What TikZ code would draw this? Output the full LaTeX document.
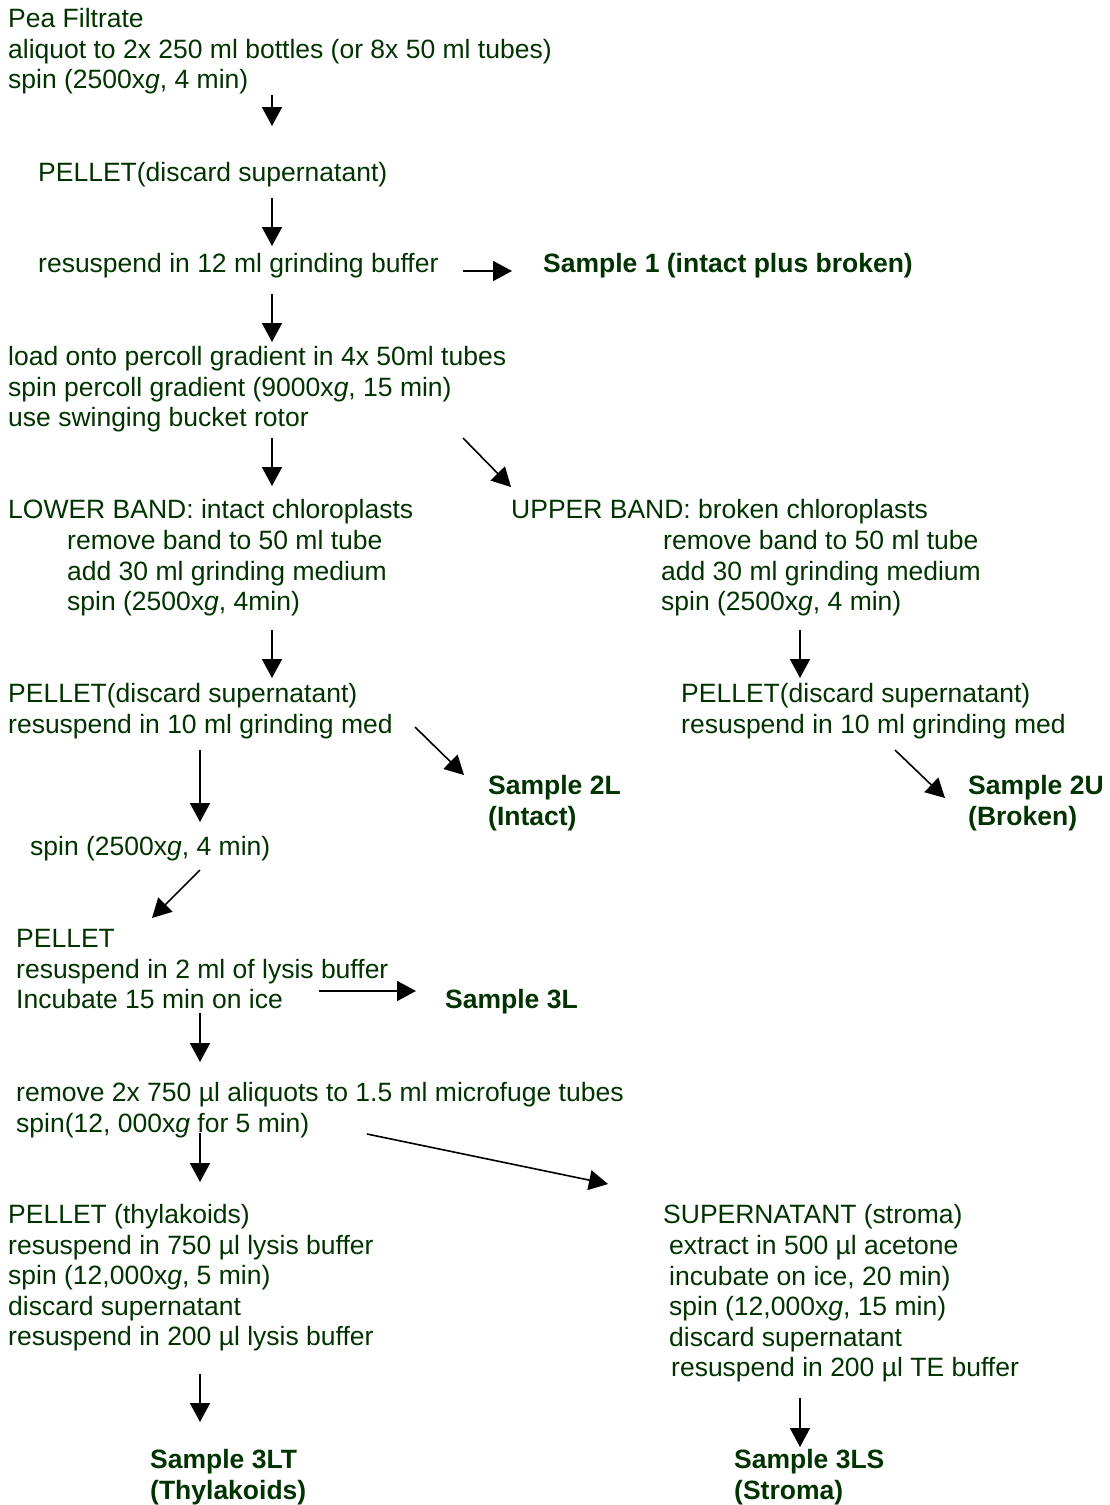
\documentclass[tikz,border=0pt]{standalone}
\usepackage{fontspec}
\setmainfont{Liberation Sans}
\usepackage{tikz}
\usetikzlibrary{arrows.meta}
\definecolor{dkgreen}{RGB}{0,51,0}
\def\xg{x\textit{g}}

\begin{document}
\begin{tikzpicture}[x=1pt,y=-1pt,
  txt/.style={anchor=base west,inner sep=0pt,align=left,text=dkgreen,
    font=\fontsize{26.5}{30.6}\selectfont},
  smp/.style={txt,font=\fontsize{26.5}{30.6}\selectfont\bfseries},
  arr/.style={-{Triangle[length=19pt,width=20pt]},line width=1.6pt}]
\useasboundingbox (0,0) rectangle (1110,1505);
%put nodes (placed at the baseline of their last line)
%top
\node[txt] (filtrate) at (8,88.7) {Pea Filtrate\\aliquot to 2x 250 ml bottles (or 8x 50 ml tubes)\\spin (2500\xg, 4 min)};
\node[txt] (pellet1) at (38,181.5) {PELLET(discard supernatant)};
\node[txt] (resusp1) at (38,272.5) {resuspend in 12 ml grinding buffer};
\node[smp] (sample1) at (543,272.5) {Sample 1 (intact plus broken)};
\node[txt] (percoll) at (8,426.7) {load onto percoll gradient in 4x 50ml tubes\\spin percoll gradient (9000\xg, 15 min)\\use swinging bucket rotor};
%lower band
\node[txt] (lower) at (8,518.5) {LOWER BAND: intact chloroplasts};
\node[txt] (lowerbody) at (67,610.7) {remove band to 50 ml tube\\add 30 ml grinding medium\\spin (2500\xg, 4min)};
\node[txt] (pelletL) at (8,733.1) {PELLET(discard supernatant)\\resuspend in 10 ml grinding med};
\node[smp] (sample2L) at (488,825.1) {Sample 2L\\(Intact)};
\node[txt] (spinL) at (30,855.5) {spin (2500\xg, 4 min)};
\node[txt] (pellet3) at (16,1008.7) {PELLET\\resuspend in 2 ml of lysis buffer\\Incubate 15 min on ice};
\node[smp] (sample3L) at (445,1008.5) {Sample 3L};
\node[txt] (aliquots) at (16,1132.1) {remove 2x 750 µl aliquots to 1.5 ml microfuge tubes\\spin(12, 000\xg{} for 5 min)};
\node[txt] (thyl) at (8,1345.9) {PELLET (thylakoids)\\resuspend in 750 µl lysis buffer\\spin (12,000\xg, 5 min)\\discard supernatant\\resuspend in 200 µl lysis buffer};
\node[smp] (sample3LT) at (150,1499.1) {Sample 3LT\\(Thylakoids)};
%upper band
\node[txt] (upper) at (511,518.5) {UPPER BAND: broken chloroplasts};
\node[txt] (upperbody) at (661,610.7) {\hspace{2pt}remove band to 50 ml tube\\add 30 ml grinding medium\\spin (2500\xg, 4 min)};
\node[txt] (pelletU) at (681,733.1) {PELLET(discard supernatant)\\resuspend in 10 ml grinding med};
\node[smp] (sample2U) at (968,825.1) {Sample 2U\\(Broken)};
%stroma
\node[txt] (strom) at (663,1223.5) {SUPERNATANT (stroma)};
\node[txt] (strombody) at (669,1376.9) {extract in 500 µl acetone\\incubate on ice, 20 min)\\spin (12,000\xg, 15 min)\\discard supernatant\\\hspace{2pt}resuspend in 200 µl TE buffer};
\node[smp] (sample3LS) at (734,1499.1) {Sample 3LS\\(Stroma)};

%arrow ends
\coordinate (a1) at (272,95);    \coordinate (a1e) at (272,126);
\coordinate (a2) at (272,198);   \coordinate (a2e) at (272,246);
\coordinate (a3) at (463,271);   \coordinate (a3e) at (512,271);
\coordinate (a4) at (272,294);   \coordinate (a4e) at (272,342);
\coordinate (a5) at (272,438);   \coordinate (a5e) at (272,486);
\coordinate (a6) at (463,438);   \coordinate (a6e) at (511,487);
\coordinate (a7) at (272,630);   \coordinate (a7e) at (272,678);
\coordinate (a8) at (800,630);   \coordinate (a8e) at (800,678);
\coordinate (a9) at (200,750);   \coordinate (a9e) at (200,822);
\coordinate (a10) at (415,727);  \coordinate (a10e) at (464,775);
\coordinate (a11) at (895,750);  \coordinate (a11e) at (945,798);
\coordinate (a12) at (200,870);  \coordinate (a12e) at (152,918);
\coordinate (a13) at (319,991);  \coordinate (a13e) at (416,991);
\coordinate (a14) at (200,1013); \coordinate (a14e) at (200,1062);
\coordinate (a15) at (200,1133); \coordinate (a15e) at (200,1182);
\coordinate (a16) at (367,1134); \coordinate (a16e) at (608,1184);
\coordinate (a17) at (200,1374); \coordinate (a17e) at (200,1422);
\coordinate (a18) at (800,1398); \coordinate (a18e) at (800,1447);
%arrows
\foreach \i in {1,...,18}
  \draw[arr] (a\i) -- (a\i e);
\end{tikzpicture}
\end{document}
